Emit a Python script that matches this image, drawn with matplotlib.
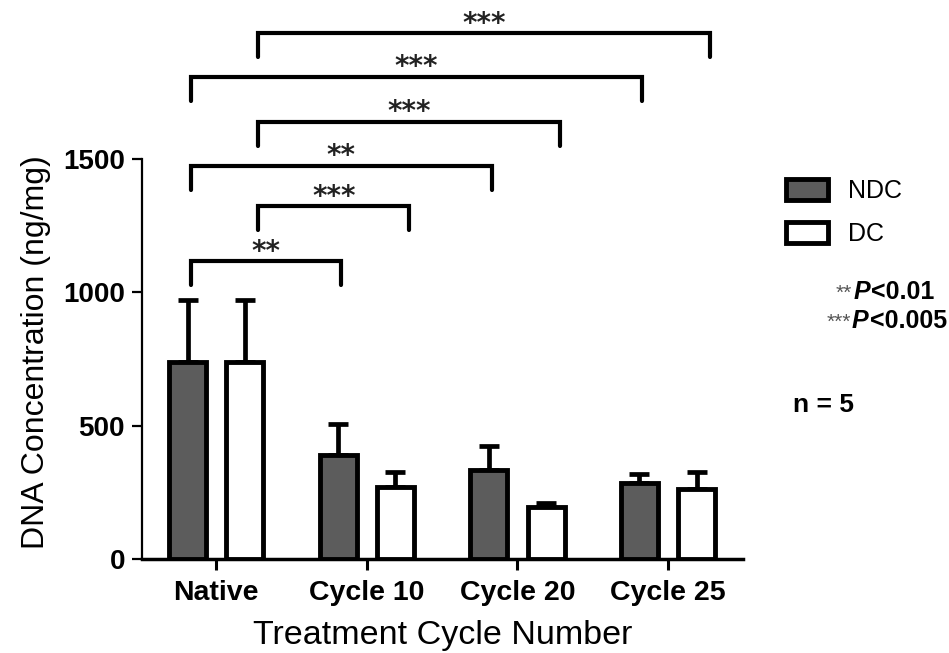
import numpy as np
import matplotlib
matplotlib.use("Agg")
import matplotlib.pyplot as plt
from matplotlib.patches import Patch
from matplotlib.offsetbox import TextArea, HPacker, AnnotationBbox

plt.rcParams["font.family"] = ["Liberation Sans", "DejaVu Sans"]

groups = ["Native", "Cycle 10", "Cycle 20", "Cycle 25"]
series = ["NDC", "DC"]
ndc_mean = [740, 390, 334, 284]
ndc_err = [232, 115, 91, 35]
dc_mean = [740, 269, 196, 262]
dc_err = [232, 59, 15, 64]

# significance brackets: (group, series) -> (group, series), bracket height, label
brk_left = [(0, "NDC"), (0, "DC"), (0, "NDC"), (0, "DC"), (0, "NDC"), (0, "DC")]
brk_right = [(1, "NDC"), (1, "DC"), (2, "NDC"), (2, "DC"), (3, "NDC"), (3, "DC")]
brk_top = [1118, 1325, 1476, 1641, 1810, 1974]
brk_labels = ["**", "***", "**", "***", "***", "***"]
brk_drop = 90

NDC_COL = "#5c5c5c"
off = {"NDC": -0.19, "DC": 0.19}
leg_nudge = {"NDC": 0.02, "DC": 0.09}
w = 0.245

fig = plt.figure(figsize=(9.49, 6.53), dpi=100)
ax = fig.add_axes([0.1493, 0.144, 0.634, 0.8366])

x = np.arange(len(groups))
for s, m, e, col in [("NDC", ndc_mean, ndc_err, NDC_COL), ("DC", dc_mean, dc_err, "white")]:
    ax.errorbar(x + off[s], m, yerr=[np.zeros(len(m)), e], fmt="none", ecolor="black",
                elinewidth=3.4, capsize=7.5, capthick=3.4, zorder=2)
    ax.bar(x + off[s], m, w, color=col, edgecolor="black", linewidth=3.5, zorder=3, label=s)

for (lg, ls), (rg, rs), top, lab in zip(brk_left, brk_right, brk_top, brk_labels):
    x0 = lg + off[ls] + leg_nudge[ls]
    x1 = rg + off[rs] + leg_nudge[rs]
    ax.plot([x0, x0, x1, x1], [top - brk_drop, top, top, top - brk_drop], color="black",
            lw=3, solid_joinstyle="miter", solid_capstyle="round", clip_on=False, zorder=4)
    ax.text((x0 + x1) / 2, top - 18, lab, ha="center", va="bottom", fontsize=20,
            fontweight="bold", family="DejaVu Sans", color="#222222")

ax.set_xlim(-0.495, 3.5)
ax.set_ylim(0, 2050)
ax.set_yticks([0, 500, 1000, 1500])
ax.set_xticks(x)
ax.set_xticklabels(groups, fontsize=20.5, fontweight="bold")
ax.tick_params(axis="y", labelsize=20, length=7, width=1.6, pad=5)
for t in ax.get_yticklabels():
    t.set_fontweight("bold")
ax.tick_params(axis="x", length=8, width=2.2, pad=7)
ax.spines["top"].set_visible(False)
ax.spines["right"].set_visible(False)
ax.spines["left"].set_bounds(0, 1500)
ax.spines["left"].set_linewidth(1.6)
ax.spines["bottom"].set_linewidth(2.5)
ax.set_ylabel("DNA Concentration (ng/mg)", fontsize=23)
ax.yaxis.set_label_coords(-0.15, 0.378)
ax.set_xlabel("Treatment Cycle Number", fontsize=24.5, labelpad=10)

handles = [Patch(facecolor=NDC_COL, edgecolor="black", linewidth=3.5),
           Patch(facecolor="white", edgecolor="black", linewidth=3.5)]
fig.legend(handles, series, loc="upper left", bbox_to_anchor=(0.815, 0.745),
           frameon=False, fontsize=18, handlelength=1.7, handleheight=0.9,
           labelspacing=0.75, handletextpad=0.8, borderpad=0)


def ptext(stars, val, xy):
    box = HPacker(children=[
        TextArea(stars, textprops=dict(fontsize=15, color="#555555")),
        TextArea("P", textprops=dict(fontsize=18, fontweight="bold", fontstyle="italic")),
        TextArea(val, textprops=dict(fontsize=18, fontweight="bold")),
    ], align="baseline", pad=0, sep=1)
    ab = AnnotationBbox(box, xy, xycoords="figure fraction", box_alignment=(1, 0.5),
                        frameon=False, pad=0)
    fig.add_artist(ab)


ptext("**", "<0.01", (0.985, 0.553))
ptext("***", "<0.005", (0.998, 0.508))
fig.text(0.836, 0.38, "n = 5", fontsize=19, fontweight="bold", ha="left", va="center")

fig.savefig("out.png", dpi=100)
